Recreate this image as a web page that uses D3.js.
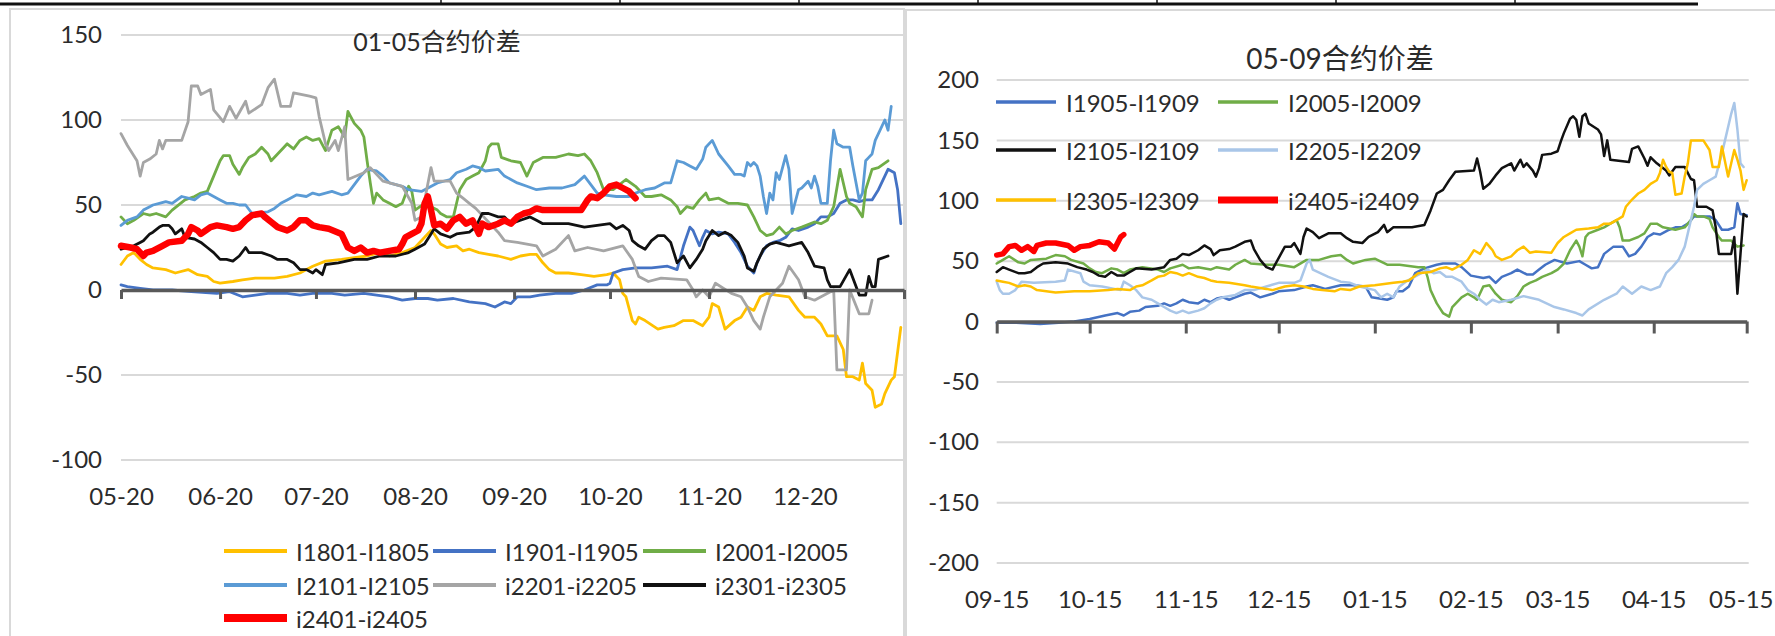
<!DOCTYPE html>
<html>
<head>
<meta charset="utf-8">
<script src="https://cdn.jsdelivr.net/npm/d3@7"></script>
<style>
  body { margin: 0; background: #fff; }
  svg { display: block; }
  text { font-family: Lato, "Noto Sans CJK SC", sans-serif; fill: #2b2b2b; }
</style>
</head>
<body>
<svg id="chart" width="1775" height="636"></svg>
<script>
// ---------- 01-05 spreads (day offset from 2022-05-20, value) ----------
const leftStart = "2022-05-20";
const leftEnd = "2023-01-20";
const leftTickDates = ["2022-05-20","2022-06-20","2022-07-20","2022-08-20","2022-09-20","2022-10-20","2022-11-20","2022-12-20","2023-01-20"];
const leftTickLabels = ["05-20","06-20","07-20","08-20","09-20","10-20","11-20","12-20",""];
const leftYTicks = [150, 100, 50, 0, -50, -100];
const leftNames = ["I1801-I1805","I1901-I1905","I2001-I2005","I2101-I2105","i2201-i2205","i2301-i2305","i2401-i2405"];

const s1801 = [[0,15],[2,20],[4,22],[6,18],[8,15],[10,13],[14,12],[17,10],[21,12],[24,9],[27,8],[29,5],[31,4],[35,5],[38,6],[42,7],[48,7],[52,8],[56,10],[60,14],[64,17],[69,18],[73,19],[77,20],[81,22],[84,20],[88,22],[92,25],[95,31],[97,35],[98,33],[100,27],[102,25],[105,26],[107,23],[109,24],[112,22],[115,21],[118,20],[122,18],[125,20],[128,21],[130,21],[132,16],[134,12],[136,10],[140,10],[144,9],[148,8],[152,9],[154,10],[156,6],[157,-2],[158,-4],[160,-18],[161,-20],[162,-16],[164,-18],[168,-23],[170,-22],[173,-21],[176,-18],[179,-18],[182,-21],[184,-16],[185,-8],[187,-10],[189,-23],[192,-18],[194,-16],[196,-10],[198,-12],[200,-4],[202,-2],[205,-3],[209,-4],[212,-12],[214,-16],[217,-16],[219,-20],[221,-27],[224,-27],[226,-35],[227,-51],[229,-51],[231,-53],[232,-43],[233,-55],[235,-59],[236,-69],[238,-67],[239,-61],[241,-53],[242,-51],[244,-22]];
const s1901 = [[0,3],[2,2],[6,1],[10,0],[16,0],[22,-1],[30,-2],[34,-1],[38,-4],[42,-3],[46,-2],[52,-2],[56,-3],[60,-2],[66,-2],[70,-3],[76,-2],[80,-3],[84,-4],[88,-6],[92,-5],[96,-5],[99,-6],[104,-5],[109,-7],[114,-8],[117,-10],[120,-7],[122,-8],[124,-4],[128,-4],[131,-3],[136,-2],[141,-2],[145,0],[149,3],[152,3],[153,4],[154,10],[157,12],[161,13],[166,13],[171,14],[174,12],[176,26],[178,37],[179,35],[181,26],[182,31],[183,35],[185,33],[187,34],[190,33],[192,28],[194,22],[196,14],[198,10],[199,16],[200,20],[202,26],[204,28],[206,29],[208,31],[210,36],[212,35],[215,37],[217,39],[219,43],[221,43],[223,45],[225,51],[227,53],[229,53],[231,52],[233,53],[235,53],[237,59],[240,71],[242,69],[243,59],[244,39]];
const s2001 = [[0,43],[2,39],[4,41],[7,45],[9,44],[11,45],[14,43],[16,47],[20,53],[23,55],[25,57],[27,58],[29,67],[31,76],[32,79],[34,79],[35,74],[37,68],[38,72],[40,78],[42,80],[44,84],[46,80],[47,76],[49,80],[51,84],[52,86],[54,83],[56,88],[58,90],[60,88],[62,89],[64,82],[66,94],[68,96],[70,90],[71,105],[73,98],[75,94],[76,90],[77,76],[78,63],[79,51],[80,57],[82,53],[84,51],[86,49],[88,51],[90,61],[91,58],[92,47],[95,51],[97,49],[99,47],[100,45],[102,43],[104,43],[105,51],[106,59],[108,65],[110,67],[112,69],[114,76],[115,84],[116,86],[118,86],[119,78],[122,76],[125,75],[127,67],[129,75],[132,78],[136,78],[140,80],[143,79],[145,80],[147,76],[149,69],[151,59],[154,59],[158,65],[161,61],[164,55],[166,55],[169,56],[172,53],[174,49],[175,45],[177,49],[179,48],[181,53],[183,57],[184,53],[187,54],[190,51],[193,51],[196,50],[198,43],[200,35],[202,32],[204,33],[206,37],[208,33],[210,35],[213,37],[217,40],[219,39],[221,41],[223,49],[225,71],[227,55],[228,51],[230,49],[232,43],[233,59],[235,71],[237,72],[240,76]];
const s2101 = [[0,38],[2,41],[5,43],[7,47],[9,49],[10,50],[12,51],[14,52],[16,51],[19,55],[21,54],[23,53],[25,56],[27,57],[29,55],[31,53],[33,51],[35,51],[37,50],[39,50],[41,45],[46,46],[48,48],[50,51],[52,53],[55,56],[58,55],[60,57],[62,56],[66,58],[69,56],[71,57],[73,62],[75,67],[77,71],[80,70],[82,67],[84,63],[88,61],[90,59],[94,58],[99,63],[103,65],[105,69],[108,71],[110,73],[112,72],[114,70],[118,71],[120,67],[122,65],[124,63],[127,61],[130,59],[134,60],[138,60],[142,62],[145,67],[147,62],[149,57],[151,56],[155,55],[159,55],[161,57],[164,59],[167,60],[170,63],[172,63],[174,76],[176,75],[178,73],[180,71],[182,77],[183,84],[185,88],[186,84],[187,80],[190,73],[192,68],[194,68],[195,67],[196,75],[197,73],[198,75],[199,73],[200,67],[201,55],[202,45],[203,57],[204,53],[205,69],[206,65],[208,79],[209,71],[210,45],[212,59],[213,60],[215,64],[216,60],[217,67],[218,61],[219,51],[221,51],[222,76],[223,94],[224,86],[226,84],[228,84],[229,73],[231,53],[232,57],[233,76],[234,78],[235,80],[236,88],[237,92],[239,100],[240,94],[241,108]];
const s2201 = [[0,92],[2,85],[5,76],[6,67],[7,75],[9,77],[11,80],[12,88],[13,83],[14,88],[19,88],[21,99],[22,120],[24,120],[25,115],[28,118],[29,106],[32,99],[34,108],[36,101],[39,111],[40,104],[44,109],[46,119],[48,124],[50,108],[53,108],[54,116],[59,114],[61,113],[62,102],[64,86],[65,82],[67,88],[68,82],[70,96],[71,65],[76,69],[78,72],[82,64],[88,61],[91,51],[92,41],[94,43],[97,72],[98,64],[103,64],[105,57],[107,54],[109,51],[111,48],[118,34],[120,29],[124,28],[130,26],[132,20],[136,24],[140,32],[142,23],[146,25],[151,23],[157,26],[160,18],[162,8],[165,5],[169,7],[177,6],[179,0],[180,-4],[182,0],[184,-4],[186,4],[191,-2],[194,-4],[196,-10],[198,-18],[200,-23],[201,-16],[203,-4],[207,4],[209,14],[212,6],[214,-4],[217,-6],[223,0],[224,-47],[227,-47],[228,0],[231,-14],[234,-14],[235,-6]];
const s2301 = [[0,24],[2,25],[4,26],[6,28],[7,29],[9,33],[10,34],[12,37],[13,38],[15,38],[16,36],[17,33],[19,36],[20,31],[23,30],[25,28],[27,25],[29,22],[31,18],[33,18],[35,17],[37,20],[39,25],[40,22],[42,22],[44,22],[47,20],[49,18],[52,18],[54,16],[56,12],[58,12],[60,10],[61,12],[63,9],[64,15],[68,16],[73,18],[77,18],[81,20],[86,20],[90,22],[92,24],[95,27],[97,33],[98,36],[100,33],[103,31],[105,33],[109,34],[111,37],[113,45],[115,45],[118,43],[120,43],[122,39],[125,41],[128,43],[130,41],[132,39],[140,39],[145,37],[149,38],[153,39],[155,36],[157,38],[159,35],[160,29],[162,26],[164,24],[166,29],[168,32],[170,32],[172,28],[173,22],[174,16],[175,18],[176,20],[178,13],[180,18],[182,24],[183,29],[185,35],[187,32],[189,34],[191,32],[193,28],[195,20],[196,13],[198,11],[199,16],[201,24],[203,27],[205,28],[209,26],[213,28],[215,22],[217,14],[220,13],[221,6],[222,2],[225,2],[228,12],[230,2],[231,-3],[233,-3],[234,8],[235,2],[236,2],[237,18],[240,20]];
const s2401 = [[0,26],[3,25],[5,24],[7,20],[8,22],[10,23],[13,26],[15,28],[19,29],[21,33],[22,37],[24,35],[25,33],[28,37],[30,38],[33,37],[35,36],[37,37],[39,41],[41,44],[44,45],[45,43],[47,40],[49,37],[52,35],[54,37],[56,41],[58,41],[60,38],[62,37],[65,36],[69,33],[71,25],[73,23],[75,25],[77,22],[79,23],[81,22],[84,23],[87,24],[88,27],[89,31],[91,33],[93,35],[94,39],[95,51],[96,55],[97,47],[98,38],[100,39],[102,36],[104,41],[106,43],[108,39],[110,41],[112,33],[113,39],[115,37],[118,39],[120,41],[122,39],[124,43],[126,45],[128,46],[130,48],[132,47],[136,47],[144,47],[146,53],[147,55],[149,54],[151,57],[153,61],[155,62],[157,60],[159,58],[161,54]];

// ---------- 05-09 spreads (day offset from 2022-09-15, value) ----------
const rightStart = "2022-09-15";
const rightEnd = "2023-05-15";
const rightTickDates = ["2022-09-15","2022-10-15","2022-11-15","2022-12-15","2023-01-15","2023-02-15","2023-03-15","2023-04-15","2023-05-15"];
const rightTickLabels = ["09-15","10-15","11-15","12-15","01-15","02-15","03-15","04-15","05-15"];
const rightYTicks = [200, 150, 100, 50, 0, -50, -100, -150, -200];
const rightNames = ["I1905-I1909","I2005-I2009","I2105-I2109","I2205-I2209","I2305-I2309","i2405-i2409"];

const r1905 = [[0,-1],[6,-1],[14,-2],[20,-1],[25,0],[30,2],[35,5],[39,7],[41,5],[43,8],[46,9],[48,12],[52,13],[54,15],[56,13],[58,15],[60,18],[62,16],[65,15],[67,18],[69,16],[71,19],[73,20],[75,18],[77,20],[80,23],[82,24],[85,20],[89,23],[91,25],[96,26],[100,29],[102,30],[106,27],[111,30],[115,30],[119,29],[121,20],[126,18],[128,20],[129,25],[131,25],[133,29],[135,40],[138,44],[142,47],[144,48],[148,48],[150,45],[153,38],[157,36],[159,37],[161,32],[163,37],[166,40],[168,43],[171,39],[173,39],[175,43],[177,47],[180,51],[184,48],[188,50],[190,47],[192,44],[194,45],[196,56],[199,62],[202,62],[204,54],[206,56],[208,62],[210,70],[212,73],[214,72],[217,76],[219,78],[221,78],[223,81],[225,87],[230,87],[232,84],[234,76],[236,76],[238,78],[239,98],[240,89],[242,88]];
const r2005 = [[0,48],[2,51],[4,54],[7,49],[9,48],[11,51],[16,52],[19,55],[22,54],[24,51],[28,48],[30,44],[32,41],[34,40],[37,44],[39,43],[41,40],[43,43],[47,45],[52,43],[54,41],[56,44],[60,47],[62,44],[65,45],[69,43],[71,45],[75,43],[77,47],[80,51],[82,48],[87,47],[91,47],[96,45],[100,51],[104,51],[108,54],[111,55],[113,51],[115,48],[119,51],[122,52],[126,47],[130,47],[136,45],[138,45],[139,37],[140,26],[142,15],[144,7],[146,4],[147,12],[150,20],[152,23],[154,20],[155,18],[157,29],[159,30],[161,23],[163,18],[166,16],[168,21],[170,29],[172,32],[174,34],[176,37],[179,40],[181,43],[183,48],[185,59],[187,67],[188,62],[189,54],[190,70],[191,73],[194,76],[196,78],[198,81],[200,84],[201,78],[202,67],[204,67],[207,70],[209,73],[211,81],[213,81],[215,78],[219,76],[222,78],[224,84],[225,89],[226,87],[228,87],[230,85],[231,78],[233,70],[234,67],[237,67],[239,62],[241,63]];
const r2105 = [[0,41],[2,45],[4,43],[7,40],[9,40],[11,41],[13,45],[15,48],[19,49],[23,48],[26,45],[29,43],[31,41],[33,38],[35,37],[37,41],[39,38],[41,38],[43,41],[45,44],[50,43],[54,45],[56,51],[58,52],[60,56],[62,55],[65,59],[67,63],[69,60],[70,55],[72,59],[75,60],[77,62],[80,66],[82,67],[83,60],[85,51],[87,45],[89,43],[90,48],[93,62],[95,62],[96,65],[98,56],[99,70],[100,77],[102,74],[104,69],[107,73],[111,73],[113,69],[115,66],[118,65],[120,70],[123,74],[125,80],[126,74],[128,78],[132,78],[134,78],[138,80],[140,92],[142,106],[144,109],[146,117],[148,124],[154,125],[155,135],[156,124],[157,110],[159,114],[161,121],[163,127],[166,131],[167,125],[169,134],[170,128],[171,131],[173,125],[174,120],[175,127],[176,138],[179,139],[181,141],[182,149],[183,156],[185,168],[186,170],[187,167],[188,153],[189,170],[190,172],[191,164],[194,159],[195,155],[196,137],[197,150],[198,134],[204,132],[205,143],[207,145],[209,135],[210,129],[211,136],[213,131],[216,125],[217,121],[219,128],[222,128],[224,118],[225,117],[226,95],[229,95],[231,92],[232,78],[233,56],[237,56],[238,70],[239,23],[240,56],[241,89],[242,87]];
const r2205 = [[0,33],[1,26],[2,23],[4,23],[6,26],[8,33],[12,32],[19,33],[22,34],[23,43],[27,40],[28,33],[30,30],[34,29],[40,26],[41,33],[43,30],[45,26],[47,20],[50,18],[52,15],[54,12],[56,9],[58,7],[60,9],[62,7],[65,9],[67,11],[69,15],[71,18],[73,20],[77,22],[80,26],[83,26],[87,29],[91,32],[96,32],[98,34],[100,48],[101,51],[102,43],[107,37],[111,33],[114,32],[117,29],[122,26],[124,20],[126,23],[128,20],[130,29],[132,33],[137,40],[139,43],[141,40],[143,41],[145,37],[147,37],[150,33],[152,26],[154,23],[156,18],[158,14],[160,18],[162,16],[166,18],[170,21],[175,18],[180,12],[183,10],[187,7],[189,5],[191,10],[196,18],[200,23],[202,29],[205,23],[208,29],[211,26],[214,29],[216,40],[218,45],[220,51],[222,62],[223,73],[224,84],[225,95],[226,109],[228,114],[230,117],[232,120],[234,139],[237,172],[238,181],[239,159],[240,131],[241,128]];
const r2305 = [[0,34],[2,33],[4,32],[7,29],[9,30],[11,29],[13,26],[16,25],[19,24],[25,25],[30,25],[36,26],[39,27],[43,26],[45,29],[47,30],[50,34],[52,37],[54,38],[56,41],[58,40],[60,38],[62,40],[65,37],[67,36],[69,34],[71,33],[75,32],[80,30],[82,29],[87,27],[89,26],[93,29],[96,30],[99,29],[102,27],[105,26],[109,25],[111,27],[114,26],[117,29],[122,30],[128,32],[131,33],[133,34],[136,40],[140,41],[143,44],[145,45],[147,43],[150,47],[152,51],[154,59],[156,56],[158,65],[159,62],[160,59],[161,54],[163,51],[166,54],[168,59],[170,62],[172,57],[174,58],[179,57],[181,65],[183,70],[185,73],[187,76],[191,77],[194,78],[196,81],[198,81],[200,84],[202,87],[203,95],[205,101],[207,106],[209,109],[211,114],[213,117],[214,123],[215,134],[216,128],[217,124],[218,123],[219,105],[221,106],[222,120],[223,131],[224,150],[228,150],[230,142],[231,128],[233,128],[234,145],[236,120],[237,131],[238,142],[239,134],[240,125],[241,109],[242,117]];
const r2405 = [[0,55],[2,56],[4,62],[6,63],[8,59],[10,62],[12,58],[13,63],[16,65],[19,65],[23,63],[25,59],[27,62],[30,63],[33,66],[36,65],[38,60],[39,65],[40,70],[41,72]];

// ---------- styling ----------
const YELLOW = "#FFC000", DBLUE = "#4472C4", GREEN = "#70AD47", LBLUE = "#5B9BD5",
      GRAY = "#A5A5A5", BLACK = "#111111", RED = "#FF0000", PALE = "#A9C6E8";
const GRID = "#D9D9D9", AXIS = "#595959";

const leftSeries = [s1801, s1901, s2001, s2101, s2201, s2301, s2401];
const leftColors = [YELLOW, DBLUE, GREEN, LBLUE, GRAY, BLACK, RED];
const rightSeries = [r1905, r2005, r2105, r2205, r2305, r2405];
const rightColors = [DBLUE, GREEN, BLACK, PALE, YELLOW, RED];

const parse = d3.utcParse("%Y-%m-%d");
const svg = d3.select("#chart");

// page frame: table rule on top and two chart panels
const frame = svg.append("g");
frame.append("line").attr("x1", 0).attr("x2", 1698).attr("y1", 4).attr("y2", 4)
  .attr("stroke", "#111").attr("stroke-width", 3);
frame.selectAll("line.sep").data([441, 620, 799, 978, 1157, 1336, 1515]).join("line")
  .attr("class", "sep").attr("x1", d => d).attr("x2", d => d).attr("y1", 0).attr("y2", 4)
  .attr("stroke", "#111").attr("stroke-width", 1.5);
frame.append("rect").attr("x", 10).attr("y", 9).attr("width", 894).attr("height", 640)
  .attr("fill", "none").attr("stroke", GRID).attr("stroke-width", 2);
frame.append("rect").attr("x", 906).attr("y", 10).attr("width", 900).attr("height", 640)
  .attr("fill", "none").attr("stroke", GRID).attr("stroke-width", 2);

function drawChart(cfg) {
  const g = svg.append("g");
  const x = d3.scaleUtc().domain([parse(cfg.start), parse(cfg.end)]).range(cfg.xr);
  const y = d3.scaleLinear().domain(cfg.yd).range(cfg.yr);
  const t0 = parse(cfg.start);

  // horizontal gridlines
  g.selectAll("line.grid").data(cfg.yTicks.filter(v => v !== 0)).join("line")
    .attr("class", "grid")
    .attr("x1", cfg.xr[0]).attr("x2", cfg.xr[1] + cfg.gridExtra)
    .attr("y1", d => y(d)).attr("y2", d => y(d))
    .attr("stroke", GRID).attr("stroke-width", 2);

  // value labels on the left (plain hyphen for negatives)
  const yAxis = g.append("g").attr("transform", `translate(${cfg.yLabelX},0)`)
    .call(d3.axisLeft(y).tickValues(cfg.yTicks).tickFormat(d => String(d))
      .tickSize(0).tickPadding(0));
  yAxis.select(".domain").remove();
  yAxis.selectAll("text").attr("font-size", cfg.fs).attr("fill", "#2b2b2b")
    .style("font-family", "Lato, sans-serif");

  // date labels at the bottom of the plot
  const xLab = g.append("g").attr("transform", `translate(0,${cfg.xLabelY})`)
    .call(d3.axisBottom(x).tickValues(cfg.tickDates.map(parse))
      .tickFormat((d, i) => cfg.tickLabels[i]).tickSize(0).tickPadding(0));
  xLab.select(".domain").remove();
  const nLab = cfg.tickLabels.length;
  xLab.selectAll("text").attr("font-size", cfg.fs).attr("fill", "#2b2b2b")
    .style("font-family", "Lato, sans-serif")
    .attr("dx", (d, i) => (i === nLab - 1 ? cfg.lastLabelShift : 0));

  // series lines
  const line = d3.line()
    .x(p => x(d3.utcDay.offset(t0, p[0])))
    .y(p => y(p[1]));
  cfg.series.forEach((s, i) => {
    g.append("path").datum(s).attr("d", line)
      .attr("fill", "none").attr("stroke", cfg.colors[i])
      .attr("stroke-width", cfg.colors[i] === RED ? cfg.redW : cfg.lineW)
      .attr("stroke-linejoin", "round").attr("stroke-linecap", "round");
  });

  // zero axis with month ticks
  const xAxis = g.append("g").attr("transform", `translate(0,${y(0)})`)
    .call(d3.axisBottom(x).tickValues(cfg.tickDates.map(parse))
      .tickFormat("").tickSize(cfg.tickLen).tickSizeOuter(0));
  xAxis.select(".domain").attr("stroke", AXIS).attr("stroke-width", 3.5);
  xAxis.selectAll(".tick line").attr("stroke", AXIS).attr("stroke-width", 3);

  // title
  g.append("text").attr("x", cfg.titleX).attr("y", cfg.titleY)
    .attr("text-anchor", "middle").attr("dominant-baseline", "central")
    .attr("font-size", cfg.titleFs).text(cfg.title);

  // legend
  const lg = g.append("g");
  cfg.names.forEach((name, i) => {
    const pos = cfg.legendPos[i];
    lg.append("line").attr("x1", pos[0]).attr("x2", pos[0] + cfg.legendLine)
      .attr("y1", pos[1]).attr("y2", pos[1])
      .attr("stroke", cfg.colors[i])
      .attr("stroke-width", cfg.colors[i] === RED ? cfg.redW + 1.5 : cfg.lineW + 1.2);
    lg.append("text").attr("x", pos[0] + cfg.legendLine + cfg.legendGap).attr("y", pos[1])
      .attr("dominant-baseline", "central").attr("font-size", cfg.fs).text(name);
  });
}

drawChart({
  start: leftStart, end: leftEnd, xr: [121, 904], yd: [-100, 150], yr: [460, 35],
  yTicks: leftYTicks, tickDates: leftTickDates, tickLabels: leftTickLabels,
  series: leftSeries, colors: leftColors, names: leftNames,
  yLabelX: 102, xLabelY: 488, fs: 24, gridExtra: 0, tickLen: 9, lastLabelShift: 0,
  lineW: 2.8, redW: 6.5, title: "01-05合约价差", titleX: 437, titleY: 41, titleFs: 25,
  legendPos: [[224, 551], [433, 551], [643, 551], [224, 585], [433, 585], [643, 585], [224, 618]],
  legendLine: 63, legendGap: 9
});

drawChart({
  start: rightStart, end: rightEnd, xr: [996.7, 1746.7], yd: [-200, 200], yr: [563, 80],
  yTicks: rightYTicks, tickDates: rightTickDates, tickLabels: rightTickLabels,
  series: rightSeries, colors: rightColors, names: rightNames,
  yLabelX: 979, xLabelY: 591, fs: 24, gridExtra: 2, tickLen: 12, lastLabelShift: -6,
  lineW: 2.5, redW: 5.5, title: "05-09合约价差", titleX: 1340, titleY: 58, titleFs: 28,
  legendPos: [[996, 102], [1218, 102], [996, 150], [1218, 150], [996, 200], [1218, 200]],
  legendLine: 60, legendGap: 10
});
</script>
</body>
</html>
